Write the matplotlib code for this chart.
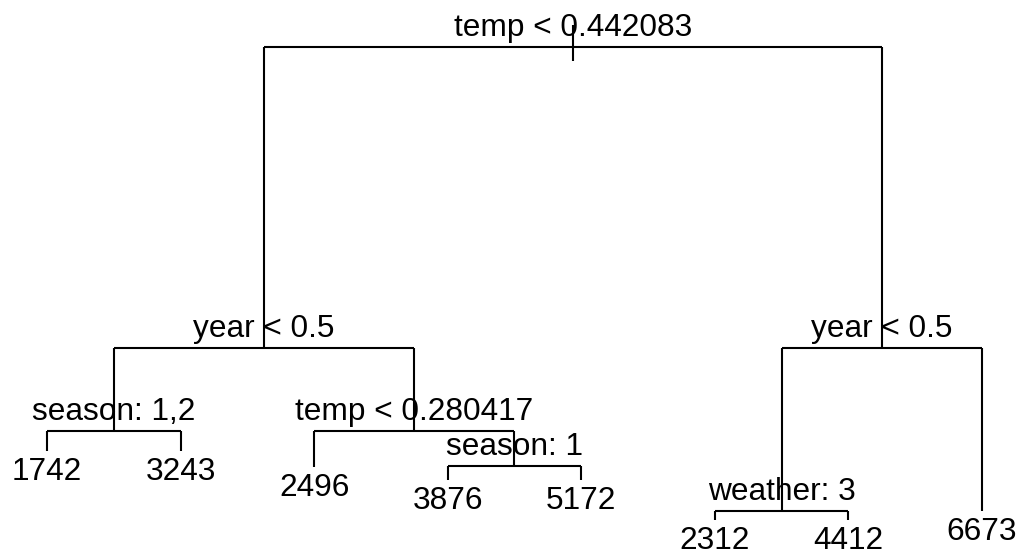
import matplotlib
matplotlib.use("Agg")
import matplotlib.pyplot as plt

# regression tree: node labels, parent index, node deviance height (scaled)
node_labels = [
    "temp < 0.442083", "year < 0.5", "season: 1,2", "1742", "3243",
    "temp < 0.280417", "2496", "season: 1", "3876", "5172",
    "year < 0.5", "weather: 3", "2312", "4412", "6673",
]
parents = [-1, 0, 1, 2, 2, 1, 5, 5, 7, 7, 0, 10, 11, 11, 10]
node_dev = [5.133, 2.123, 1.29, 1.087, 1.087, 1.29, 0.933, 0.937, 0.805, 0.805,
            2.123, 0.495, 0.40, 0.40, 0.49]

plt.rcParams["font.family"] = ["Liberation Sans", "DejaVu Sans"]

children = {i: [] for i in range(len(node_labels))}
for i, p in enumerate(parents):
    if p >= 0:
        children[p].append(i)

# x positions: leaves in order 1..n, splits at the mean of their children
xpos = {}
counter = [0]


def place(n):
    if not children[n]:
        counter[0] += 1
        xpos[n] = counter[0]
    else:
        for c in children[n]:
            place(c)
        xpos[n] = sum(xpos[c] for c in children[n]) / len(children[n])


place(0)

fig = plt.figure(figsize=(10.18, 5.52), dpi=100)
ax = fig.add_axes([0, 0, 1, 1])
unit = 935 / 7
ax.set_xlim(1 - 47 / unit, 1 + 971 / unit)
ax.set_ylim(0.08, 5.6)
ax.axis("off")

lw = 1.5
fs = 22.8
kw = dict(color="black", lw=lw, solid_capstyle="butt")

# root stub
ax.plot([xpos[0], xpos[0]], [node_dev[0] + 0.215, node_dev[0] - 0.14], **kw)

for n in range(len(node_labels)):
    kids = children[n]
    if kids:
        xs = [xpos[c] for c in kids]
        ax.plot([min(xs), max(xs)], [node_dev[n], node_dev[n]], **kw)
        for c in kids:
            ax.plot([xpos[c], xpos[c]], [node_dev[n], node_dev[c]], **kw)
        ax.annotate(node_labels[n], (xpos[n], node_dev[n]), xytext=(0, 7.9),
                    textcoords="offset points", ha="center", va="baseline",
                    fontsize=fs)
    else:
        ax.annotate(node_labels[n], (xpos[n], node_dev[n]), xytext=(0, -20.9),
                    textcoords="offset points", ha="center", va="baseline",
                    fontsize=fs)

fig.savefig("out.png", dpi=100, facecolor="white")
